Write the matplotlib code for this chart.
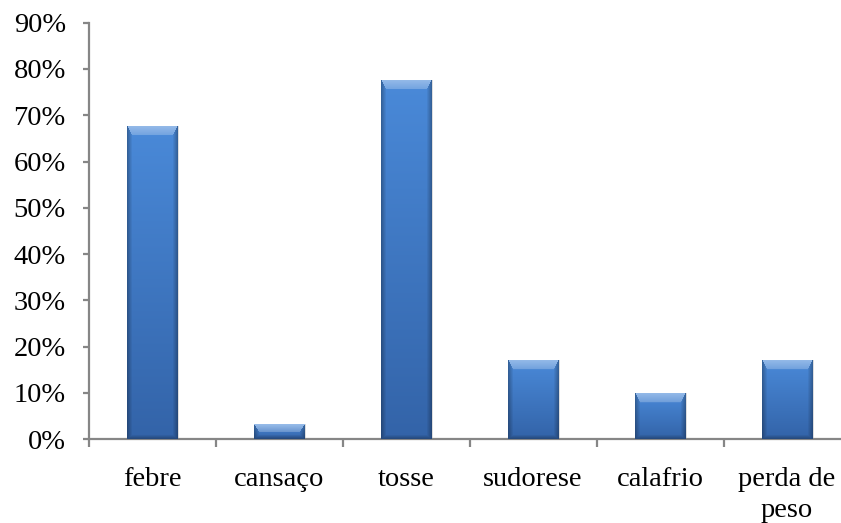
import matplotlib.pyplot as plt
import numpy as np
from matplotlib.ticker import PercentFormatter

# fonte serifada (tipo Times)
plt.rcParams['font.family'] = ['Liberation Serif', 'DejaVu Serif']

# sintomas e percentuais
sintomas = ['febre', 'cansaço', 'tosse', 'sudorese', 'calafrio', 'perda de\npeso']
percentuais = [67.7, 3.2, 77.6, 17.1, 10.0, 17.1]

cor_eixo = '#868686'


def imagem_bisel(w, h):
    """Textura da barra: degradê vertical com bisel nas bordas."""
    w = max(int(round(w)), 2)
    h = max(int(round(h)), 2)
    yy, xx = np.mgrid[0:h, 0:w].astype(float)
    t = (yy / (h - 1))[..., None]
    cor_topo = np.array([0.29, 0.54, 0.85])
    cor_base = np.array([0.20, 0.39, 0.66])
    img = cor_topo * (1 - t) + cor_base * t

    # larguras do bisel (px): topo, direita, base, esquerda
    larg = np.array([min(10.0, h / 2.0), 5.0, min(4.0, h / 3.0), 5.0])
    dist = np.stack([yy, w - 1 - xx, h - 1 - yy, xx]) / larg[:, None, None]
    lado = np.argmin(dist, axis=0)
    k = np.clip(1 - np.min(dist, axis=0), 0, 1)[..., None]

    topo = (lado == 0)[..., None]
    base = (lado == 2)[..., None]
    lat = ((lado == 1) | (lado == 3))[..., None]
    clara = img + (1 - img) * (0.22 + 0.2 * k)
    img = np.where(topo & (k > 0), clara, img)
    img = np.where(lat, img * (1 - 0.28 * k), img)
    img = np.where(base, img * (1 - 0.25 * k), img)
    return np.clip(img, 0, 1)


fig = plt.figure(figsize=(8.41, 5.23), dpi=100)
ax = fig.add_axes([88.5 / 841, 83.7 / 523, 762 / 841, 416.7 / 523])

x = np.arange(len(sintomas))
ax.set_xlim(-0.5, len(sintomas) - 0.5)
ax.set_ylim(0, 90)

barras = ax.bar(x, percentuais, width=0.4, color='#3f78c2', edgecolor='none', zorder=2)

# sombra leve e textura de cada barra
for barra, valor in zip(barras, percentuais):
    x0 = barra.get_x()
    x1 = x0 + barra.get_width()
    p0 = ax.transData.transform((x0, 0))
    p1 = ax.transData.transform((x1, valor))
    ax.bar(barra.get_x() + barra.get_width() / 2 + 0.014, valor, width=0.4,
           color='#c4c4c4', alpha=0.55, edgecolor='none', zorder=1.5)
    img = imagem_bisel(p1[0] - p0[0], p1[1] - p0[1])
    im = ax.imshow(img, extent=(x0, x1, 0, valor), aspect='auto',
                   interpolation='bilinear', zorder=3)
    im.set_clip_path(barra)

ax.set_xlim(-0.5, len(sintomas) - 0.5)
ax.set_ylim(0, 90)

# eixo y
ax.set_yticks(np.arange(0, 91, 10))
ax.yaxis.set_major_formatter(PercentFormatter(decimals=0))
ax.tick_params(axis='y', length=4.3, width=1.6, color=cor_eixo, pad=12,
               labelsize=20.5)

# eixo x: rótulos no centro, marcas entre categorias
ax.set_xticks(x)
ax.set_xticklabels(sintomas)
ax.set_xticks(np.arange(-0.5, len(sintomas), 1), minor=True)
ax.tick_params(axis='x', which='major', length=0, pad=20, labelsize=20.5)
ax.tick_params(axis='x', which='minor', length=6, width=1.6, color=cor_eixo,
               direction='out')
for lbl in ax.get_xticklabels():
    lbl.set_linespacing(1.3)

for lado in ['top', 'right']:
    ax.spines[lado].set_visible(False)
for lado in ['left', 'bottom']:
    ax.spines[lado].set_color(cor_eixo)
    ax.spines[lado].set_linewidth(1.6)

plt.savefig('out.png', dpi=100)
